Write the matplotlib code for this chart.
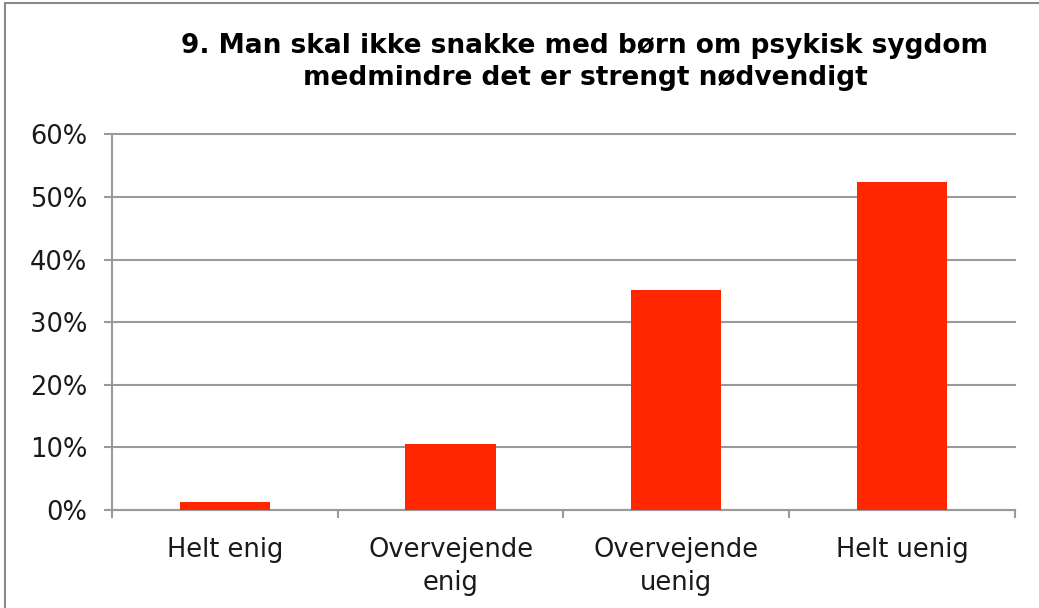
import numpy as np
import matplotlib.pyplot as plt
from matplotlib.patches import Rectangle
from matplotlib.ticker import FuncFormatter

# svar-kategorier og andel (%)
kategorier = ['Helt enig', 'Overvejende\nenig', 'Overvejende\nuenig', 'Helt uenig']
andel = [1.3, 10.6, 35.2, 52.4]
titel = '9. Man skal ikke snakke med børn om psykisk sygdom\nmedmindre det er strengt nødvendigt'

grid_col = '#9a9a9a'
bar_col = '#ff2600'

plt.rcParams['font.family'] = ['DejaVu Sans']
fig = plt.figure(figsize=(10.39, 6.08), dpi=100)
ax = fig.add_axes([0.1078, 0.1612, 0.869, 0.6178])

x = np.arange(len(kategorier))
ax.bar(x, andel, width=0.4, color=bar_col, zorder=3)

ax.set_xlim(-0.5, len(kategorier) - 0.5)
ax.set_ylim(0, 60)
ax.set_yticks(np.arange(0, 61, 10))
ax.yaxis.set_major_formatter(FuncFormatter(lambda v, p: '%d%%' % v))
ax.grid(axis='y', color=grid_col, linewidth=1.5, zorder=0)
for l in ax.get_ygridlines():
    l.set_clip_on(False)

ax.set_xticks(x)
ax.set_xticklabels(kategorier, fontsize=18.5, color='#1a1a1a', linespacing=1.35)
ax.set_xticks(np.arange(-0.5, len(kategorier), 1), minor=True)
ax.tick_params(axis='x', which='major', length=0, pad=19.5)
ax.tick_params(axis='x', which='minor', length=6, width=1.5, color=grid_col)
ax.tick_params(axis='y', length=6, width=1.5, color=grid_col, labelsize=18.5,
               pad=12, labelcolor='#1a1a1a')

for s in ['top', 'right']:
    ax.spines[s].set_visible(False)
for s in ['left', 'bottom']:
    ax.spines[s].set_color(grid_col)
    ax.spines[s].set_linewidth(1.5)

fig.text(0.563, 0.8985, titel, ha='center', va='center', fontsize=19,
         fontweight='bold', linespacing=1.3)

fig.patches.append(Rectangle((0.005, -0.1), 1.2, 1.095, transform=fig.transFigure,
                             fill=False, edgecolor='#8a8a8a', linewidth=1.5))

fig.savefig('out.png', dpi=100)
